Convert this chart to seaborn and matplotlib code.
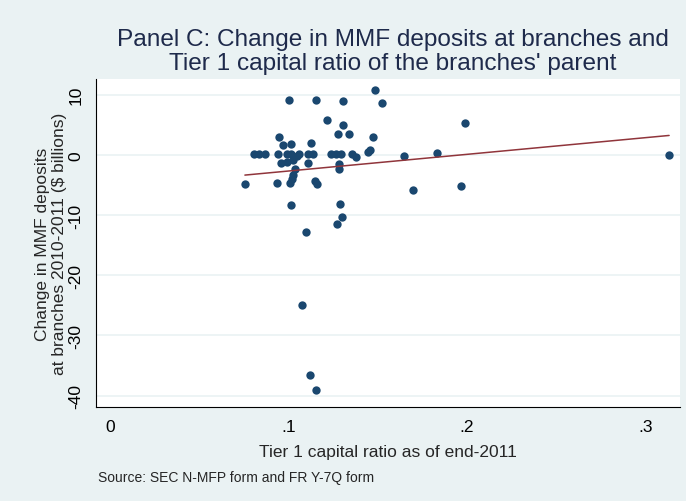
import pandas as pd
import matplotlib.pyplot as plt
import seaborn as sns

# Tier 1 capital ratio (x) and change in MMF deposits, $bn (y)
tier1 = [0.1485, 0.1524, 0.1001, 0.1156, 0.1303, 0.1217, 0.1303, 0.1275, 0.1337, 0.1475,
         0.0949, 0.0970, 0.1016, 0.1124, 0.1986,
         0.0807, 0.0835, 0.0870, 0.0943, 0.0993, 0.1012, 0.1061, 0.1111, 0.1139, 0.1236,
         0.1266, 0.1292, 0.1354, 0.1378, 0.1447, 0.1457, 0.1649, 0.1830, 0.3132,
         0.0958, 0.0990, 0.1027, 0.1046, 0.1111, 0.1285, 0.1285, 0.1036, 0.1027, 0.1018,
         0.1008, 0.0756, 0.0934, 0.1150, 0.1162, 0.1699, 0.1966,
         0.1014, 0.1287, 0.1300, 0.1273, 0.1098, 0.1074, 0.1120, 0.1157]
mmf_change = [10.8, 8.6, 9.1, 9.1, 8.9, 5.8, 4.9, 3.4, 3.4, 2.9,
              3.0, 1.6, 1.8, 1.9, 5.3,
              0.2, 0.2, 0.2, 0.2, 0.2, 0.2, 0.1, 0.2, 0.1, 0.1,
              0.1, 0.1, 0.1, -0.3, 0.4, 0.8, -0.2, 0.3, 0.0,
              -1.3, -1.2, -0.8, -0.2, -1.4, -1.6, -2.3, -2.4, -3.3, -4.0,
              -4.6, -4.8, -4.7, -4.3, -4.8, -5.8, -5.1,
              -8.3, -8.2, -10.4, -11.5, -12.8, -24.9, -36.5, -39.0]

x_ticks = [0, 0.1, 0.2, 0.3]
x_tick_labels = ['0', '.1', '.2', '.3']
y_ticks = [10, 0, -10, -20, -30, -40]

title_lines = ["Panel C: Change in MMF deposits at branches and",
               "Tier 1 capital ratio of the branches' parent"]

df = pd.DataFrame({'tier1': tier1, 'mmf': mmf_change})

bg = '#eaf2f3'
navy = '#1a476f'
maroon = '#90353b'

sns.set_style('white')
plt.rcParams['font.family'] = ['Liberation Sans', 'DejaVu Sans']

fig = plt.figure(figsize=(6.86, 5.02), dpi=100, facecolor=bg)
ax = fig.add_axes([96 / 686, 1 - 408 / 502, 584 / 686, 328 / 502])
ax.set_facecolor('white')

sns.regplot(data=df, x='tier1', y='mmf', ci=None, ax=ax,
            scatter_kws={'s': 36, 'color': navy, 'alpha': 1, 'linewidths': 0, 'zorder': 3},
            line_kws={'color': maroon, 'linewidth': 1.1, 'zorder': 4})

ax.set_xlim(-0.0078, 0.3193)
ax.set_ylim(-41.9, 12.6)

ax.set_xticks(x_ticks)
ax.set_xticklabels(x_tick_labels, fontsize=12.5)
ax.set_yticks(y_ticks)
ax.set_yticklabels([str(v) for v in y_ticks], fontsize=12.5, rotation=90, va='center')
ax.tick_params(axis='both', direction='out', length=5, width=0.8, colors='black', pad=4)

ax.grid(axis='y', color=bg, linewidth=1.2)
ax.set_axisbelow(True)
for side in ['top', 'right']:
    ax.spines[side].set_visible(False)
for side in ['left', 'bottom']:
    ax.spines[side].set_color('black')
    ax.spines[side].set_linewidth(0.8)

ax.set_xlabel('Tier 1 capital ratio as of end-2011', fontsize=12.5, labelpad=7)
ax.set_ylabel('Change in MMF deposits\nat branches 2010-2011 ($ billions)', fontsize=12.5,
              labelpad=1, linespacing=1.15)

# title: two centred lines, placed one by one
for line, ypix in zip(title_lines, [40, 64]):
    fig.text(393 / 686, 1 - ypix / 502, line, ha='center', va='center',
             fontsize=17.6, color='#1e2a4b')
fig.text(98 / 686, 1 - 478 / 502, 'Source: SEC N-MFP form and FR Y-7Q form',
         ha='left', va='center', fontsize=10)

fig.savefig('out.png', dpi=100, facecolor=bg)
